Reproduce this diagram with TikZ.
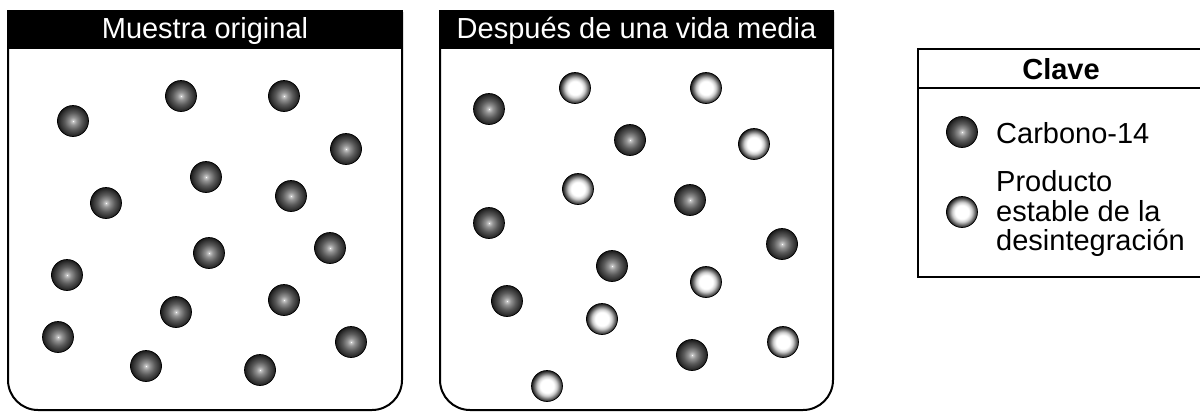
\documentclass[tikz,border=0pt]{standalone}
\usepackage{fontspec}
\setmainfont{Liberation Sans}
\pgfdeclareradialshading{darkball}{\pgfpoint{0bp}{0bp}}{color(0bp)=(white); color(1bp)=(black!20); color(6bp)=(black!42); color(14bp)=(black!65); color(21bp)=(black!80); color(25bp)=(black!90); color(50bp)=(black!90)}
\pgfdeclareradialshading{lightball}{\pgfpoint{0bp}{0bp}}{color(0bp)=(white); color(11bp)=(white); color(16bp)=(black!20); color(21bp)=(black!60); color(25bp)=(black!90); color(50bp)=(black!90)}
\tikzset{
  dball/.style={circle, inner sep=0pt, minimum size=31bp, draw=black, line width=0.7bp, shading=darkball},
  wball/.style={circle, inner sep=0pt, minimum size=31bp, draw=black, line width=0.7bp, shading=lightball},
  jar/.style={draw=black, line width=2bp, rounded corners=30bp},
  headtxt/.style={text=white, inner sep=0pt, anchor=base},
  keytxt/.style={inner sep=0pt, anchor=base west, align=left},
}
\begin{document}
\begin{tikzpicture}[x=1bp, y=-1bp, font=\fontsize{29bp}{29.5bp}\selectfont]
\useasboundingbox (0,0) rectangle (1200,412);
% containers
\draw[jar] (8,12) -- (8,410) -- (402,410) -- (402,12);
\fill[black] (7,10) rectangle (403,49);
\node[headtxt] (h1) at (205,38) {Muestra original};
\draw[jar] (440,12) -- (440,410) -- (833,410) -- (833,12);
\fill[black] (439,10) rectangle (834,49);
\node[headtxt] (h2) at (636.5,38) {Después de una vida media};
% left sample
\node[dball] (l1) at (73,121) {};
\node[dball] (l2) at (181,96) {};
\node[dball] (l3) at (284,96) {};
\node[dball] (l4) at (346,149) {};
\node[dball] (l5) at (206,177) {};
\node[dball] (l6) at (106,203) {};
\node[dball] (l7) at (291,196) {};
\node[dball] (l8) at (330,248) {};
\node[dball] (l9) at (209,253) {};
\node[dball] (l10) at (67,275) {};
\node[dball] (l11) at (284,300) {};
\node[dball] (l12) at (176,312) {};
\node[dball] (l13) at (58,337) {};
\node[dball] (l14) at (351,342) {};
\node[dball] (l15) at (146,366) {};
\node[dball] (l16) at (260,370) {};
% right sample
\node[dball] (r1) at (489,109) {};
\node[dball] (r2) at (630,140) {};
\node[dball] (r3) at (690,200) {};
\node[dball] (r4) at (489,223) {};
\node[dball] (r5) at (782,244) {};
\node[dball] (r6) at (612,266) {};
\node[dball] (r7) at (507,301) {};
\node[dball] (r8) at (692,355) {};
\node[wball] (w1) at (575,88) {};
\node[wball] (w2) at (706,88) {};
\node[wball] (w3) at (754,144) {};
\node[wball] (w4) at (578,189) {};
\node[wball] (w5) at (706,282) {};
\node[wball] (w6) at (602,319) {};
\node[wball] (w7) at (783,342) {};
\node[wball] (w8) at (547,386) {};
% key
\draw[line width=2bp] (1206,49) -- (918,49) -- (918,277) -- (1206,277);
\draw[line width=2bp] (918,88) -- (1206,88);
\node[inner sep=0pt, anchor=base, font=\fontsize{29bp}{29.5bp}\selectfont\bfseries] (kt) at (1061,79) {Clave};
\node[dball] (k1) at (962,132) {};
\node[keytxt] (k1t) at (996,143) {Carbono-14};
\node[wball] (k2) at (962,212) {};
\node[keytxt] (k2t) at (996,250.5) {Producto\\estable de la\\desintegración};
\end{tikzpicture}
\end{document}
